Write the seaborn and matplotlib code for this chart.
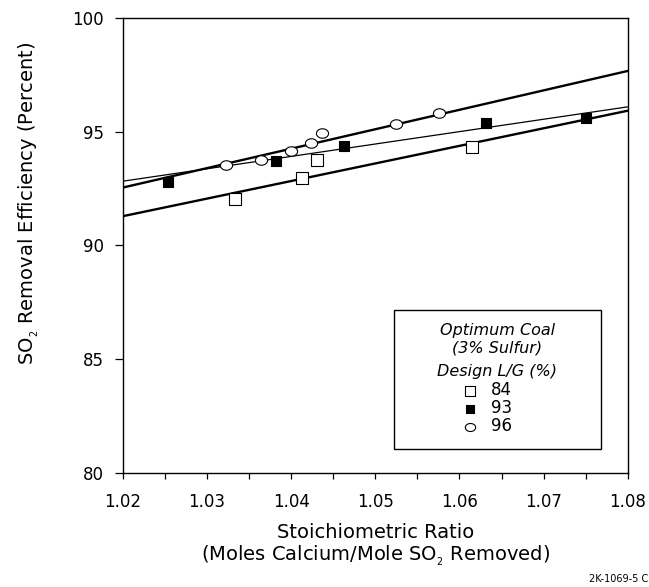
import numpy as np
import pandas as pd
import matplotlib
matplotlib.use("Agg")
import matplotlib.pyplot as plt
from matplotlib.patches import Rectangle
import seaborn as sns

# ---- data ----
lg_levels = ["84", "93", "96"]

x_84 = [1.0333, 1.0413, 1.0431, 1.0615]
y_84 = [92.03, 92.94, 93.76, 94.33]

x_93 = [1.0253, 1.0382, 1.0463, 1.0632, 1.0751]
y_93 = [92.79, 93.71, 94.37, 95.40, 95.58]

x_96 = [1.0322, 1.0364, 1.0400, 1.0424, 1.0436, 1.0525, 1.0576]
y_96 = [93.55, 93.74, 94.13, 94.48, 94.96, 95.33, 95.81]

# fitted lines (end values)
fit_x = [1.02, 1.08]
fit_84 = [91.28, 95.92]
fit_93 = [92.82, 96.09]
fit_96 = [92.54, 97.67]

x_ticks = [1.02, 1.03, 1.04, 1.05, 1.06, 1.07, 1.08]
y_ticks = [80, 85, 90, 95, 100]

sns.set_style("ticks")
plt.rcParams["font.family"] = ["DejaVu Sans"]
plt.rcParams["mathtext.fontset"] = "dejavusans"
plt.rcParams["text.color"] = "black"
plt.rcParams["axes.labelcolor"] = "black"
plt.rcParams["xtick.color"] = "black"
plt.rcParams["ytick.color"] = "black"

fig = plt.figure(figsize=(6.49, 5.87), dpi=100)
ax = fig.add_axes([123 / 649, 1 - 472.5 / 587, (627.7 - 123) / 649, (472.5 - 18) / 587])

# fit lines
sns.lineplot(x=fit_x, y=fit_84, ax=ax, color="black", lw=1.7, zorder=2)
sns.lineplot(x=fit_x, y=fit_93, ax=ax, color="black", lw=0.9, zorder=2)
sns.lineplot(x=fit_x, y=fit_96, ax=ax, color="black", lw=1.7, zorder=2)

# ellipse marker for the circles
t = np.linspace(0, 2 * np.pi, 73)
ell = np.column_stack([np.cos(t), 0.78 * np.sin(t)])

sns.scatterplot(x=x_84, y=y_84, ax=ax, marker="s", s=64, facecolor="white",
                edgecolor="black", linewidth=0.8, zorder=3, label=lg_levels[0])
sns.scatterplot(x=x_93, y=y_93, ax=ax, marker="s", s=58, facecolor="black",
                edgecolor="black", linewidth=0.8, zorder=3, label=lg_levels[1])
sns.scatterplot(x=x_96, y=y_96, ax=ax, marker=ell, s=76, facecolor="white",
                edgecolor="black", linewidth=0.8, zorder=3, label=lg_levels[2])

ax.set_xlim(1.02, 1.08)
ax.set_ylim(80, 100)
ax.set_xticks(x_ticks)
ax.set_xticklabels([f"{v:.2f}" for v in x_ticks])
ax.set_xticks(np.arange(1.025, 1.08, 0.01), minor=True)
ax.set_yticks(y_ticks)
ax.set_yticklabels([str(v) for v in y_ticks])

for side in ["left", "right", "top", "bottom"]:
    ax.spines[side].set_visible(True)
    ax.spines[side].set_linewidth(1.0)
    ax.spines[side].set_color("black")

ax.tick_params(axis="x", which="both", direction="out", length=4, width=0.9,
               pad=11, labelsize=12, colors="black")
ax.tick_params(axis="y", which="both", direction="out", length=6, width=0.9,
               pad=8, labelsize=12, colors="black")
ax.tick_params(top=False, right=False)

ax.set_xlabel("Stoichiometric Ratio\n(Moles Calcium/Mole SO$_{_2}$ Removed)",
              fontsize=14, linespacing=1.1, color="black")
ax.xaxis.label.set_va("center")
ax.xaxis.set_label_coords(0.5, -0.161)

ax.set_ylabel("SO$_{_2}$ Removal Efficiency (Percent)", fontsize=14, color="black")
ax.yaxis.label.set_rotation_mode("default")
ax.yaxis.label.set_va("center")
ax.yaxis.label.set_ha("center")
ax.yaxis.set_label_coords(-0.186, 0.593)

# legend box
box = Rectangle((0.5366, 0.051), 0.9465 - 0.5366, 0.3575 - 0.051,
                transform=ax.transAxes, facecolor="white", edgecolor="black",
                lw=1.0, zorder=4)
ax.add_patch(box)
ax.text(0.7416, 0.294, "Optimum Coal\n(3% Sulfur)", transform=ax.transAxes,
        ha="center", va="center", fontsize=11.5, fontstyle="italic",
        linespacing=1.2, zorder=6, color="black")
ax.text(0.7416, (472.5 - 371.7) / 454.5, "Design L/G (%)", transform=ax.transAxes,
        ha="center", va="center", fontsize=11.5, fontstyle="italic", zorder=6,
        color="black")

leg = ax.legend(loc="center left", bbox_to_anchor=((460.7 - 123) / 505, (472.5 - 408.3) / 454.5),
                frameon=False, fontsize=12, handlelength=1.2,
                handletextpad=0.62, labelspacing=0.0, markerscale=0.85,
                borderaxespad=0, borderpad=0, labelcolor="black")
leg.set_zorder(5)

fig.text(648 / 649, 1 - 579 / 587, "2K-1069-5 C", ha="right", va="center",
         fontsize=7, color="black")

fig.savefig("out.png", dpi=100)
